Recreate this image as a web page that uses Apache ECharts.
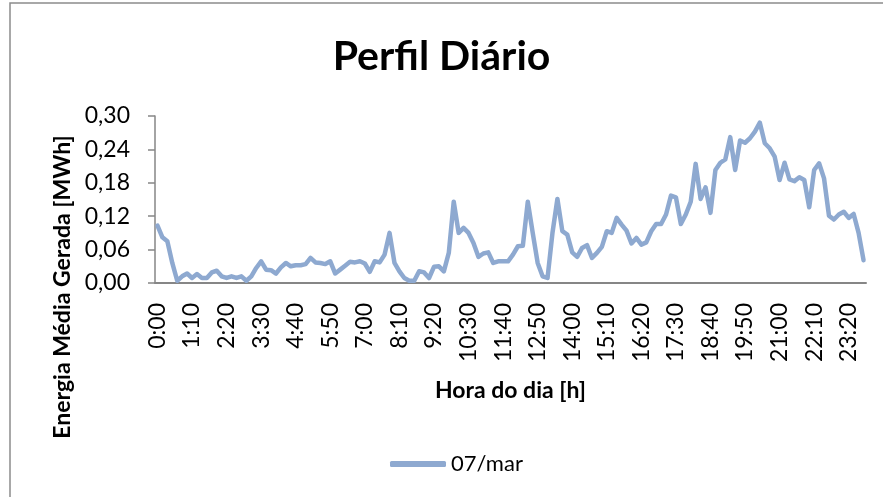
<!DOCTYPE html>
<html>
<head>
<meta charset="utf-8">
<script src="https://cdn.jsdelivr.net/npm/echarts@6/dist/echarts.min.js"></script>
<style>html,body{margin:0;padding:0;background:#fff}#c{width:883px;height:497px}</style>
</head>
<body>
<div id="c"></div>
<script>
// categories: every 10 minutes from 0:00 to 23:50
const categories = [];
for (let h = 0; h < 24; h++) { for (let m = 0; m < 60; m += 10) { categories.push(h + ':' + (m === 0 ? '00' : m)); } }

const seriesName = '07/mar';
const values = [
  0.103, 0.082, 0.075, 0.036, 0.004, 0.012, 0.017, 0.009, 0.016, 0.009,
  0.009, 0.019, 0.022, 0.012, 0.009, 0.012, 0.009, 0.012, 0.004, 0.012,
  0.027, 0.039, 0.024, 0.023, 0.017, 0.028, 0.036, 0.030, 0.032, 0.032,
  0.034, 0.045, 0.037, 0.036, 0.034, 0.039, 0.017, 0.024, 0.031, 0.038,
  0.037, 0.039, 0.035, 0.020, 0.039, 0.037, 0.051, 0.090, 0.036, 0.021,
  0.009, 0.004, 0.004, 0.021, 0.019, 0.009, 0.029, 0.030, 0.021, 0.054,
  0.146, 0.090, 0.099, 0.090, 0.072, 0.047, 0.053, 0.055, 0.036, 0.039,
  0.039, 0.039, 0.051, 0.066, 0.067, 0.146, 0.090, 0.036, 0.012, 0.009,
  0.090, 0.151, 0.093, 0.087, 0.055, 0.047, 0.063, 0.068, 0.045, 0.054,
  0.065, 0.093, 0.090, 0.117, 0.105, 0.094, 0.071, 0.081, 0.069, 0.073,
  0.093, 0.106, 0.106, 0.123, 0.157, 0.154, 0.106, 0.123, 0.146, 0.214,
  0.151, 0.172, 0.126, 0.203, 0.216, 0.222, 0.262, 0.203, 0.256, 0.252,
  0.260, 0.272, 0.288, 0.251, 0.242, 0.227, 0.185, 0.216, 0.186, 0.183,
  0.190, 0.185, 0.136, 0.203, 0.215, 0.188, 0.121, 0.114, 0.123, 0.128,
  0.117, 0.124, 0.090, 0.041
];

const yTicks = [0, 0.06, 0.12, 0.18, 0.24, 0.30];
const titleText = 'Perfil Diário';
const xName = 'Hora do dia [h]';
const yName = 'Energia Média Gerada [MWh]';

const FONT = 'Lato, "Open Sans", sans-serif';
const GREY = '#868686';
const chart = echarts.init(document.getElementById('c'));
chart.setOption({
  animation: false,
  backgroundColor: '#fff',
  title: {
    text: titleText, left: 'center', top: 31,
    textStyle: { fontFamily: FONT, fontWeight: 'bold', fontSize: 41, color: '#000' }
  },
  graphic: [{
    type: 'rect', shape: { x: 10, y: 3, width: 900, height: 600 },
    style: { fill: 'none', stroke: '#8c8c8c', lineWidth: 1.5 }, silent: true
  }, {
    type: 'text', x: 63, y: 287, rotation: Math.PI / 2,
    style: {
      text: yName, fontFamily: FONT, fontWeight: 'bold', fontSize: 23, fill: '#000',
      align: 'center', verticalAlign: 'middle'
    }, silent: true
  }],
  legend: {
    data: [seriesName], left: 385, top: 448, itemWidth: 56, itemHeight: 6,
    icon: 'roundRect', itemGap: 4,
    textStyle: { fontFamily: FONT, fontSize: 22, color: '#000' }
  },
  grid: { left: 155, right: 17, top: 116, bottom: 214, containLabel: false },
  xAxis: {
    type: 'category', data: categories, boundaryGap: true,
    name: xName, nameLocation: 'middle', nameGap: 96,
    nameTextStyle: { fontFamily: FONT, fontWeight: 'bold', fontSize: 23, color: '#000' },
    axisLine: { lineStyle: { color: GREY, width: 2 } },
    axisTick: { interval: 0, length: 6, lineStyle: { color: GREY, width: 1 } },
    axisLabel: { interval: 6, rotate: 90, margin: 20, fontFamily: FONT, fontSize: 23, color: '#000' },
    splitLine: { show: false }
  },
  yAxis: {
    type: 'value', min: yTicks[0], max: yTicks[yTicks.length - 1], interval: 0.06,
    axisLine: { show: true, lineStyle: { color: GREY, width: 1.5 } },
    axisTick: { show: true, length: 7, lineStyle: { color: GREY, width: 1.5 } },
    axisLabel: {
      margin: 25, fontFamily: FONT, fontSize: 23, color: '#000',
      formatter: v => v.toFixed(2).replace('.', ',')
    },
    splitLine: { show: false }
  },
  series: [{
    name: seriesName, type: 'line', data: values, showSymbol: false, symbol: 'none',
    lineStyle: { color: '#8EA9D0', width: 4.5, cap: 'round', join: 'round' },
    itemStyle: { color: '#8EA9D0' }
  }]
});
</script>
</body>
</html>
